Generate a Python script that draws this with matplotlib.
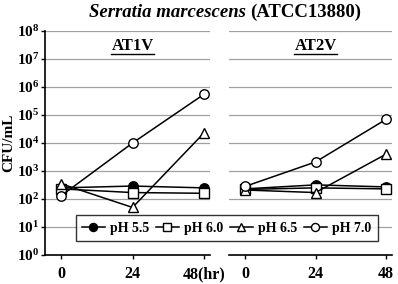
import matplotlib
matplotlib.use("Agg")
import matplotlib.pyplot as plt
from matplotlib.lines import Line2D

plt.rcParams['font.family'] = ['Liberation Serif', 'DejaVu Serif']
plt.rcParams['font.weight'] = 'bold'
plt.rcParams['mathtext.fontset'] = 'custom'
plt.rcParams['mathtext.rm'] = 'Liberation Serif:bold'
plt.rcParams['mathtext.bf'] = 'Liberation Serif:bold'

hours = [0, 24, 48]
panels = ["AT1V", "AT2V"]
labels = ["pH 5.5", "pH 6.0", "pH 6.5", "pH 7.0"]
markers = ["o", "s", "^", "o"]
faces = ["black", "white", "white", "white"]

# CFU/mL
at1v = [
    [250, 290, 250],
    [230, 170, 160],
    [350, 50, 23000],
    [130, 10000, 550000],
]
at2v = [
    [230, 320, 270],
    [220, 250, 230],
    [210, 170, 4000],
    [280, 2100, 70000],
]
values = [at1v, at2v]
xticklabels = [["0", "24", "48(hr)"], ["0", "24", "48"]]

fig = plt.figure(figsize=(3.98, 2.84), dpi=100)
ax1 = fig.add_axes([0.113, 0.102, 0.4146, 0.789])
ax2 = fig.add_axes([0.5754, 0.102, 0.4095, 0.789])
axes = [ax1, ax2]

handles = []
for k, ax in enumerate(axes):
    for i in range(len(labels)):
        h, = ax.plot(hours, values[k][i], color="black", lw=1.1,
                     marker=markers[i], mfc=faces[i], mec="black",
                     ms=6.8, mew=1.0, label=labels[i], zorder=3)
        if k == 0:
            handles.append(h)
    ax.set_yscale("log")
    ax.set_ylim(1, 1e8)
    ax.set_xlim(-5.4, 50)
    ax.set_xticks(hours)
    ax.set_xticklabels(xticklabels[k], fontsize=11.5, fontweight="bold")
    ax.set_yticks([10 ** e for e in range(9)])
    ax.minorticks_off()
    ax.grid(axis="y", color="#a0a0a0", lw=0.9)
    ax.set_axisbelow(True)
    for s in ["top", "right"]:
        ax.spines[s].set_visible(False)
    ax.spines["bottom"].set_linewidth(1.2)
    ax.tick_params(axis="x", length=3, width=1, pad=5)
    ax.text(24, 10 ** 7.45, panels[k], ha="center", va="center",
            fontsize=12, fontweight="bold")

ax1.set_yticklabels([r"$\mathbf{10^{%d}}$" % e for e in range(9)], fontsize=11)
ax1.tick_params(axis="y", length=3, width=1, pad=1)
ax1.spines["left"].set_linewidth(1.2)
ax1.set_ylabel("CFU/mL", fontsize=11, fontweight="bold", labelpad=1)

ax2.spines["left"].set_visible(False)
ax2.tick_params(axis="y", left=False, labelleft=False)

# title: italic species name followed by upright strain id
t1 = fig.text(0.0, 0.955, "Serratia marcescens ", ha="left", va="center",
              fontsize=13.5, fontweight="bold", fontstyle="italic")
t2 = fig.text(0.0, 0.955, "(ATCC13880)", ha="left", va="center",
              fontsize=13.5, fontweight="bold")

leg = fig.legend(handles=handles, loc="center", bbox_to_anchor=(0.570, 0.197),
                 ncol=4, frameon=True, fancybox=False, edgecolor="black",
                 fontsize=10, handlelength=1.6, handletextpad=0.4,
                 columnspacing=0.5, borderpad=0.45, markerscale=0.85)
leg.get_frame().set_linewidth(1.0)
for t in leg.get_texts():
    t.set_fontweight("bold")

fig.canvas.draw()
r = fig.canvas.get_renderer()
W, H = fig.bbox.width, fig.bbox.height

# centre the two-part title
w1 = t1.get_window_extent(r).width
w2 = t2.get_window_extent(r).width
x0 = 0.565 * W - (w1 + w2) / 2
t1.set_x(x0 / W)
t2.set_x((x0 + w1) / W)

# underline the panel names
for ax in axes:
    for t in ax.texts:
        bb = t.get_window_extent(r)
        fig.add_artist(Line2D([bb.x0 / W, bb.x1 / W], [bb.y0 / H, bb.y0 / H],
                              transform=fig.transFigure, color="black", lw=1))

fig.savefig("out.png", dpi=100)
